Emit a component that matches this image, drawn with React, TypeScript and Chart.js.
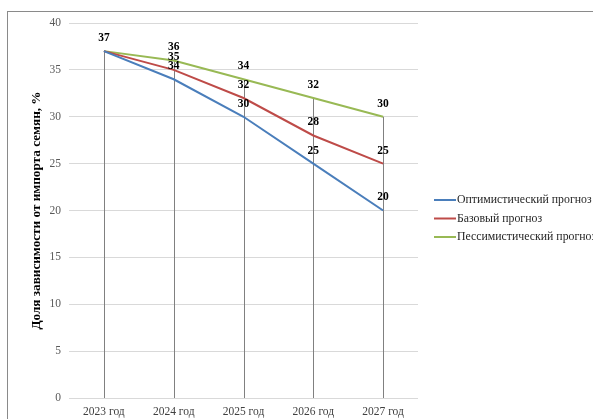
import React, { useEffect, useRef } from "react";
import { Chart, registerables } from "chart.js";

Chart.register(...registerables);

const categories = ["2023 год", "2024 год", "2025 год", "2026 год", "2027 год"];
const optimistic = [37, 34, 30, 25, 20];
const base = [37, 35, 32, 28, 25];
const pessimistic = [37, 36, 34, 32, 30];
const seriesNames = ["Оптимистический прогноз", "Базовый прогноз", "Пессимистический прогноз"];
const seriesColors = ["#4a7ebb", "#be4b48", "#98b954"];
const yTitle = "Доля зависимости от импорта семян, %";

const SERIF = "'Liberation Serif', 'Times New Roman', serif";

const decorPlugin = {
  id: "decor",
  beforeDraw(chart: any) {
    const ctx = chart.ctx;
    ctx.save();
    ctx.fillStyle = "#ffffff";
    ctx.fillRect(0, 0, chart.width, chart.height);
    ctx.strokeStyle = "#8a8a8a";
    ctx.lineWidth = 1;
    ctx.strokeRect(7.5, 11.5, 700, 500);
    ctx.restore();
  },
  beforeDatasetsDraw(chart: any) {
    const ctx = chart.ctx;
    const yScale = chart.scales.y;
    const xScale = chart.scales.x;
    ctx.save();
    ctx.strokeStyle = "#808080";
    ctx.lineWidth = 1;
    for (let i = 0; i < categories.length; i++) {
      let mx = -Infinity;
      chart.data.datasets.forEach((ds: any) => {
        if (ds.data[i] > mx) mx = ds.data[i];
      });
      const x = Math.round(xScale.getPixelForValue(i)) + 0.5;
      ctx.beginPath();
      ctx.moveTo(x, yScale.getPixelForValue(mx));
      ctx.lineTo(x, yScale.getPixelForValue(0));
      ctx.stroke();
    }
    ctx.restore();
  },
  afterDraw(chart: any) {
    const ctx = chart.ctx;
    const yScale = chart.scales.y;
    const xScale = chart.scales.x;
    ctx.save();
    // data labels
    ctx.font = "bold 11.5px " + SERIF;
    ctx.fillStyle = "#000000";
    ctx.textAlign = "center";
    ctx.textBaseline = "middle";
    for (let i = 0; i < categories.length; i++) {
      const seen: number[] = [];
      chart.data.datasets.forEach((ds: any) => {
        const v = ds.data[i];
        if (seen.indexOf(v) >= 0) return;
        seen.push(v);
        const x = xScale.getPixelForValue(i);
        const y = yScale.getPixelForValue(v);
        ctx.fillText(String(v), x, y - 13);
      });
    }
    // y title
    const cy = (chart.chartArea.top + chart.chartArea.bottom) / 2;
    ctx.translate(37, cy);
    ctx.rotate(-Math.PI / 2);
    ctx.font = "bold 13.2px " + SERIF;
    ctx.fillText(yTitle, 0, 0);
    ctx.setTransform(1, 0, 0, 1, 0, 0);
    // legend
    const items = seriesNames;
    ctx.font = "11.8px " + SERIF;
    ctx.textAlign = "left";
    ctx.textBaseline = "middle";
    items.forEach((name, k) => {
      const y = 200 + k * 18.5;
      ctx.strokeStyle = seriesColors[k];
      ctx.lineWidth = 2;
      ctx.beginPath();
      ctx.moveTo(434, y);
      ctx.lineTo(456, y);
      ctx.stroke();
      ctx.fillStyle = "#262626";
      ctx.fillText(name, 457, y);
    });
    ctx.restore();
  },
};

export default function App() {
  const ref = useRef<HTMLCanvasElement>(null);
  useEffect(() => {
    if (!ref.current) return;
    const chart = new Chart(ref.current, {
      type: "line",
      data: {
        labels: categories,
        datasets: [
          { label: seriesNames[0], data: optimistic, borderColor: seriesColors[0], backgroundColor: seriesColors[0], borderWidth: 2, pointRadius: 0, tension: 0 },
          { label: seriesNames[1], data: base, borderColor: seriesColors[1], backgroundColor: seriesColors[1], borderWidth: 2, pointRadius: 0, tension: 0 },
          { label: seriesNames[2], data: pessimistic, borderColor: seriesColors[2], backgroundColor: seriesColors[2], borderWidth: 2, pointRadius: 0, tension: 0 },
        ],
      },
      options: {
        responsive: false,
        animation: false,
        layout: { padding: { left: 0, top: 23, right: 175, bottom: 0 } },
        plugins: { legend: { display: false }, tooltip: { enabled: false } },
        scales: {
          x: {
            offset: true,
            grid: { display: false, drawTicks: false },
            border: { display: false },
            ticks: { color: "#404040", font: { family: SERIF, size: 11.5 }, padding: 7, maxRotation: 0 },
            afterFit: (s: any) => { s.height = 21; },
          },
          y: {
            min: 0,
            max: 40,
            ticks: { stepSize: 5, color: "#595959", font: { family: SERIF, size: 11.5 }, padding: 8 },
            grid: { color: "#d9d9d9", lineWidth: 1, drawTicks: false },
            border: { display: false },
            afterFit: (s: any) => { s.width = 69; },
          },
        },
      },
      plugins: [decorPlugin],
    } as any);
    return () => chart.destroy();
  }, []);
  return (
    <div style={{ position: "absolute", left: 0, top: 0, width: 593, height: 419 }}>
      <canvas ref={ref} width={593} height={419} style={{ display: "block" }} />
    </div>
  );
}
